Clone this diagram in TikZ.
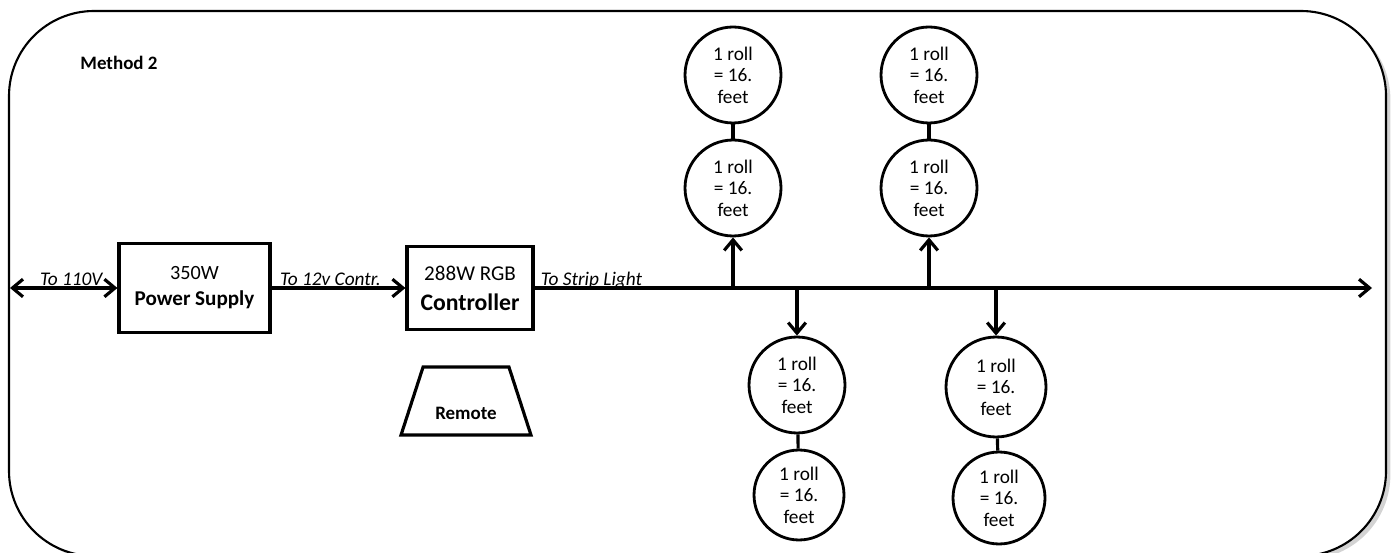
\documentclass[tikz,border=0pt]{standalone}
\usepackage{fontspec}
\setmainfont{Carlito}
\usetikzlibrary{arrows.meta,shapes.geometric,shadows}

\begin{document}
\begin{tikzpicture}[x=0.02cm, y=-0.02cm, >={Straight Barb[length=6pt,width=10pt]}, line width=1.8pt,
	box/.style={draw, rectangle, align=center, inner sep=0pt},
	rollc/.style={draw, circle, line width=1.6pt, minimum size=1.92cm, inner sep=0pt, align=center, font=\fontsize{11}{12.2}\selectfont},
	lbl/.style={font=\fontsize{11}{13}\selectfont\itshape, anchor=base, yshift=1.5pt, inner sep=0pt}]
	\useasboundingbox (0,0) rectangle (1395,553);
	\clip (0,0) rectangle (1395,553);
	
	% outer frame
	\draw[line width=1.2pt, rounded corners=1.7cm, fill=white, drop shadow={shadow xshift=2.5pt, shadow yshift=-2pt, opacity=0.35}] (9,11) rectangle (1386,556);
	\node[font=\fontsize{10.8}{13}\selectfont\bfseries] (title) at (119,63) {Method 2};
	
	% supply, controller, remote
	\node[box, minimum width=3.02cm, minimum height=1.78cm, font=\fontsize{12}{14.7}\selectfont] (ps) at (194.5,288)
		{{\fontsize{11.5}{14.7}\selectfont 350W}\\{\bfseries Power Supply}};
	\node[box, minimum width=2.52cm, minimum height=1.66cm, font=\fontsize{12}{17}\selectfont] (ctrl) at (470,288)
		{288W RGB\\{\fontsize{13.5}{17}\selectfont\bfseries Controller}};
	\node[draw, trapezium, trapezium left angle=75.6, trapezium right angle=75.6, trapezium stretches=true,
		minimum width=2.6cm, minimum height=1.36cm, inner sep=2pt] (remote) at (466,401) {};
	\node[font=\fontsize{10.8}{13}\selectfont\bfseries] (remotetxt) at (466,413) {Remote};
	
	% free ends of the feed lines
	\coordinate (acin) at (10,288);
	\coordinate (lineend) at (1372,288);
	
	\draw[<->] (acin) -- node[lbl, pos=0.57] (l110) {To 110V} (ps);
	\draw[->] (ps) -- node[lbl, pos=0.44] (l12v) {To 12v Contr.} (ctrl);
	\draw[->] (ctrl.east) -- node[lbl, pos=0.068] (lstrip) {To Strip Light} (lineend);
	
	% rolls above the line
	\node[rollc] (r1a) at (733,75) {1 roll\\= 16.\\feet};
	\node[rollc] (r1b) at (733,188) {1 roll\\= 16.\\feet};
	\node[rollc] (r2a) at (929,75) {1 roll\\= 16.\\feet};
	\node[rollc] (r2b) at (929,188) {1 roll\\= 16.\\feet};
	
	% rolls below the line
	\node[rollc] (r3a) at (797,385) {1 roll\\= 16.\\feet};
	\node[rollc, minimum size=1.8cm] (r3b) at (799,495) {1 roll\\= 16.\\feet};
	\node[rollc, minimum size=2cm] (r4a) at (996,387) {1 roll\\= 16.\\feet};
	\node[rollc, minimum size=1.84cm] (r4b) at (999,498) {1 roll\\= 16.\\feet};
	
	% taps on the strip line
	\coordinate (j1) at (733,288);
	\coordinate (j2) at (797,288);
	\coordinate (j3) at (929,288);
	\coordinate (j4) at (996,288);
	
	\draw[->] (j1) -- (r1b);
	\draw[->] (j3) -- (r2b);
	\draw[->] (j2) -- (r3a);
	\draw[->] (j4) -- (r4a);
	
	\draw (r1a) -- (r1b);
	\draw (r2a) -- (r2b);
	\draw (r3a) -- (r3b);
	\draw (r4a) -- (r4b);
\end{tikzpicture}
\end{document}
